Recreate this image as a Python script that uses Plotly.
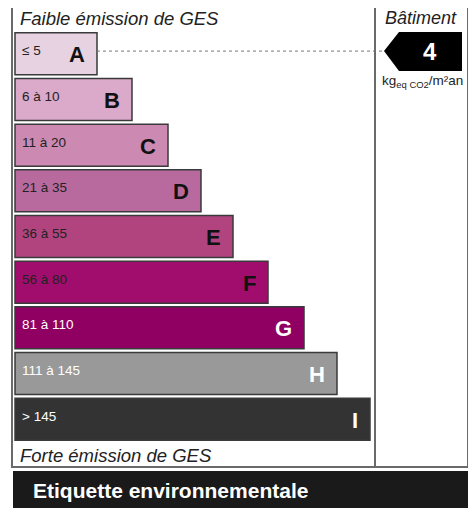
import plotly.graph_objects as go

W, H = 476, 508
OFF = 8  # page body margin offset

classes = ["A", "B", "C", "D", "E", "F", "G", "H", "I"]
ranges = ["≤ 5", "6 à 10", "11 à 20", "21 à 35", "36 à 55", "56 à 80", "81 à 110", "111 à 145", "> 145"]
bar_lengths = [82, 117, 153, 186, 218, 253, 289, 322, 355]
bar_colors = ["#e6d2e0", "#dba9c9", "#cc8ab2", "#b86a9e", "#b1447f", "#a10d6c", "#8f0062", "#999999", "#333333"]
label_colors = ["#222222"] * 6 + ["#ffffff"] * 3
building_value = "4"
building_class = "A"
bar_base = 15

FONT = "Liberation Sans, Arial"


def px(x):
    return (x - OFF) / W


def py(y):
    return 1 - (y - OFF) / H


fig = go.Figure()
fig.add_trace(go.Bar(
    y=classes,
    x=bar_lengths,
    base=[bar_base] * len(classes),
    orientation="h",
    marker=dict(color=bar_colors, line=dict(color="#3a3a3a", width=1.5)),
    hoverinfo="skip",
    width=0.92,
))

annotations = []
for c, r, L, col in zip(classes, ranges, bar_lengths, label_colors):
    annotations.append(dict(
        x=bar_base, y=c, xref="x", yref="y", text=r,
        showarrow=False, xanchor="left", xshift=5, yshift=3,
        font=dict(family=FONT, size=13.5, color=col),
    ))
    annotations.append(dict(
        x=bar_base + L, y=c, xref="x", yref="y", text=f"<b>{c}</b>",
        showarrow=False, xanchor="right", xshift=-10, yshift=-1,
        font=dict(family=FONT, size=22, color="#111111" if col != "#ffffff" else "#ffffff"),
    ))

annotations += [
    dict(x=px(18), y=py(19), xref="paper", yref="paper", text="<i>Faible émission de GES</i>",
         showarrow=False, xanchor="left", yanchor="middle",
         font=dict(family=FONT, size=18.5, color="#222222")),
    dict(x=px(18), y=py(455), xref="paper", yref="paper", text="<i>Forte émission de GES</i>",
         showarrow=False, xanchor="left", yanchor="middle",
         font=dict(family=FONT, size=18.5, color="#222222")),
    dict(x=px(421), y=py(18), xref="paper", yref="paper", text="<i>Bâtiment</i>",
         showarrow=False, xanchor="center", yanchor="middle",
         font=dict(family=FONT, size=18, color="#222222")),
    dict(x=px(430), y=py(52), xref="paper", yref="paper", text=f"<b>{building_value}</b>",
         showarrow=False, xanchor="center", yanchor="middle",
         font=dict(family=FONT, size=24, color="#ffffff")),
    dict(x=px(422), y=py(82), xref="paper", yref="paper", text="kg<sub>eq CO2</sub>/m²an",
         showarrow=False, xanchor="center", yanchor="middle",
         font=dict(family=FONT, size=13.5, color="#222222")),
    dict(x=px(31), y=py(490), xref="paper", yref="paper", text="<b>Etiquette environnementale</b>",
         showarrow=False, xanchor="left", yanchor="middle",
         font=dict(family=FONT, size=21, color="#ffffff")),
]

idx = classes.index(building_class)
shapes = [
    # outer frame
    dict(type="rect", xref="paper", yref="paper", x0=px(12), x1=px(468), y0=py(467), y1=py(5),
         line=dict(color="#6a6a6a", width=2), layer="below"),
    # divider
    dict(type="line", xref="paper", yref="paper", x0=px(375), x1=px(375), y0=py(467), y1=py(5),
         line=dict(color="#6a6a6a", width=2)),
    # footer
    dict(type="rect", xref="paper", yref="paper", x0=px(13), x1=px(468), y0=py(508), y1=py(471),
         fillcolor="#1a1a1a", line=dict(width=0)),
    # dashed line from class bar end to arrow tip
    dict(type="line", xref="x", yref="y", x0=bar_base + bar_lengths[idx], x1=383, y0=idx - 0.06, y1=idx - 0.06,
         line=dict(color="#777777", width=1, dash="dot")),
    # arrow
    dict(type="path", xref="paper", yref="paper",
         path=f"M {px(384)} {py(51)} L {px(399)} {py(32)} L {px(462)} {py(32)} L {px(462)} {py(71)} L {px(399)} {py(71)} Z",
         fillcolor="#000000", line=dict(width=0)),
]

fig.update_layout(
    width=W, height=H,
    margin=dict(l=0, r=0, t=0, b=0),
    paper_bgcolor="#ffffff", plot_bgcolor="rgba(0,0,0,0)",
    showlegend=False,
    bargap=0.08,
    xaxis=dict(range=[OFF, W + OFF], domain=[0, 1], visible=False, fixedrange=True),
    yaxis=dict(categoryorder="array", categoryarray=classes, autorange="reversed",
               domain=[py(442), py(31)], visible=False, fixedrange=True),
    annotations=annotations,
    shapes=shapes,
)

fig.write_html("out.html")
